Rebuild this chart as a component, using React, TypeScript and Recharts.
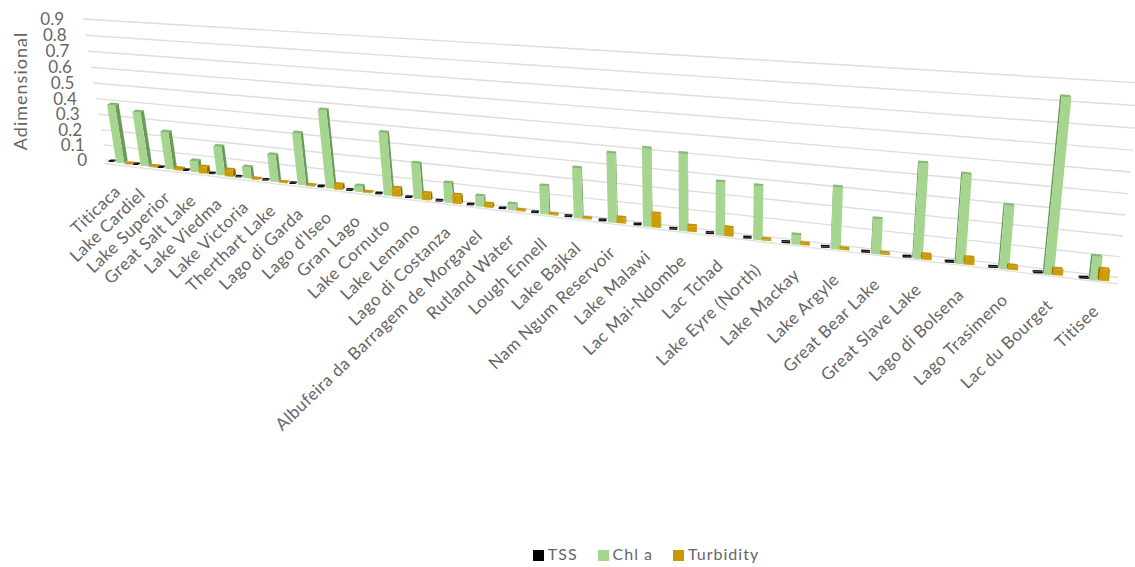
import React from 'react';
import { BarChart, Bar, XAxis, YAxis, CartesianGrid, Legend } from 'recharts';

const lakes = [
  'Titicaca', 'Lake Cardiel', 'Lake Superior', 'Great Salt Lake', 'Lake Viedma', 'Lake Victoria',
  'Therthart Lake', 'Lago di Garda', "Lago d'Iseo", 'Gran Lago', 'Lake Cornuto', 'Lake Lemano',
  'Lago di Costanza', 'Albufeira da Barragem de Morgavel', 'Rutland Water', 'Lough Ennell', 'Lake Bajkal',
  'Nam Ngum Reservoir', 'Lake Malawi', 'Lac Mai-Ndombe', 'Lac Tchad', 'Lake Eyre (North)', 'Lake Mackay',
  'Lake Argyle', 'Great Bear Lake', 'Great Slave Lake', 'Lago di Bolsena', 'Lago Trasimeno', 'Lac du Bourget',
  'Titisee',
];
const tss = [
  0.007, 0.007, 0.007, 0.008, 0.007, 0.007, 0.007, 0.007, 0.008, 0.007, 0.007, 0.007, 0.008, 0.007, 0.007,
  0.007, 0.008, 0.008, 0.008, 0.008, 0.008, 0.008, 0.008, 0.008, 0.008, 0.008, 0.008, 0.008, 0.008, 0.008,
];
const chlA = [
  0.375, 0.345, 0.235, 0.07, 0.18, 0.07, 0.165, 0.315, 0.47, 0.035, 0.37, 0.21, 0.115, 0.06, 0.035,
  0.16, 0.28, 0.38, 0.425, 0.415, 0.285, 0.285, 0.05, 0.32, 0.18, 0.48, 0.445, 0.315, 0.84, 0.115,
];
const turbidity = [
  0.003, 0.005, 0.01, 0.04, 0.04, 0.004, 0.003, 0.005, 0.03, 0.004, 0.05, 0.04, 0.05, 0.02, 0.005,
  0.005, 0.004, 0.03, 0.075, 0.03, 0.045, 0.006, 0.008, 0.006, 0.008, 0.025, 0.035, 0.02, 0.03, 0.055,
];
const valueTicks = [0, 0.1, 0.2, 0.3, 0.4, 0.5, 0.6, 0.7, 0.8, 0.9];

const chartData = lakes.map((name, i) => ({ name, tss: tss[i], chlA: chlA[i], turbidity: turbidity[i] }));

const FONT = 'Lato, sans-serif';
const TEXT = '#666666';

// Flat plot rectangle that Recharts lays out; everything is then projected onto the tilted wall
const PLOT = { x: 100, y: 20, w: 1000, h: 260 };
const WALL = { tl: [83, 19], tr: [1141, 83], br: [1118, 277.5], bl: [106, 160] };

const perspective = (() => {
  const [x0, y0] = WALL.tl;
  const [x1, y1] = WALL.tr;
  const [x2, y2] = WALL.br;
  const [x3, y3] = WALL.bl;
  const sx = x0 - x1 + x2 - x3;
  const sy = y0 - y1 + y2 - y3;
  const dx1 = x1 - x2;
  const dx2 = x3 - x2;
  const dy1 = y1 - y2;
  const dy2 = y3 - y2;
  const den = dx1 * dy2 - dx2 * dy1;
  const g = (sx * dy2 - dx2 * sy) / den;
  const h = (dx1 * sy - sx * dy1) / den;
  const a = x1 - x0 + g * x1;
  const b = x3 - x0 + h * x3;
  const d = y1 - y0 + g * y1;
  const e = y3 - y0 + h * y3;
  return (px: number, py: number) => {
    const u = (px - PLOT.x) / PLOT.w;
    const v = (py - PLOT.y) / PLOT.h;
    const q = g * u + h * v + 1;
    return [(a * u + b * v + x0) / q, (d * u + e * v + y0) / q];
  };
})();

const pts = (list: number[][]) => list.map(p => `${p[0].toFixed(1)},${p[1].toFixed(1)}`).join(' ');

interface BoxStyle {
  slot: number; // -1, 0, 1: position of the series inside a category
  shift: number[]; // screen offset from the category centre, left and right end of the axis
  half: number[]; // half width of the front face, left and right end of the axis
  drop: number[]; // how far the front face sits below the wall, left and right end
  deep: number; // depth of the column, as a share of a full column
  slope: number; // tilt of the top and bottom edges
  face: string;
  side: string;
  cap: string;
}

const BAR_SIZE = 10;

// One 3D column: front face, visible side and top
const Box = ({ x, y, width, height, style }: any) => {
  const s: BoxStyle = style;
  const cx = x + width / 2 - s.slot * BAR_SIZE;
  const k = (cx - PLOT.x) / PLOT.w;
  const off = s.shift[0] + (s.shift[1] - s.shift[0]) * k;
  const hw = s.half[0] + (s.half[1] - s.half[0]) * k;
  const drop = s.drop[0] + (s.drop[1] - s.drop[0]) * k;
  const top = perspective(cx, y);
  const base = perspective(cx, y + height);
  const depth = [(3.5 - 5 * k) * s.deep, -2.5 * s.deep];

  const ftl = [top[0] + off - hw, top[1] + drop - s.slope * hw];
  const ftr = [top[0] + off + hw, top[1] + drop + s.slope * hw];
  const fbl = [base[0] + off - hw, base[1] + drop - s.slope * hw];
  const fbr = [base[0] + off + hw, base[1] + drop + s.slope * hw];
  const back = (p: number[]) => [p[0] + depth[0], p[1] + depth[1]];
  const sideFace = depth[0] >= 0
    ? [ftr, back(ftr), back(fbr), fbr]
    : [ftl, back(ftl), back(fbl), fbl];

  return (
    <g>
      <polygon points={pts(sideFace)} fill={s.side} />
      <polygon points={pts([ftl, ftr, fbr, fbl])} fill={s.face} />
      <polygon points={pts([ftl, ftr, back(ftr), back(ftl)])} fill={s.cap} />
    </g>
  );
};

const tssStyle: BoxStyle = { slot: -1, shift: [-7, -11], half: [2.5, 4.8], drop: [0.5, 4], deep: 0.6, slope: 0.03, face: '#111111', side: '#111111', cap: '#111111' };
const chlStyle: BoxStyle = { slot: 0, shift: [2, 0], half: [4, 5], drop: [1.5, 5.5], deep: 1, slope: 0.08, face: '#A5D58F', side: '#6A9A5C', cap: '#85B975' };
const turbStyle: BoxStyle = { slot: 1, shift: [10, 9], half: [4, 5], drop: [3, 6], deep: 1, slope: 0.08, face: '#CD9B04', side: '#8F6C02', cap: '#C4940A' };

const LakeTick = ({ x, y, payload }: any) => {
  const [bx, by] = perspective(x, y);
  const k = (x - PLOT.x) / PLOT.w;
  const tx = bx + 3 + 3 * k;
  const ty = by + 27 + 5 * k;
  return (
    <text
      x={tx}
      y={ty}
      textAnchor="end"
      transform={`rotate(-44 ${tx} ${ty})`}
      fontFamily={FONT}
      fontSize={17}
      letterSpacing={0.5}
      fill={TEXT}
    >
      {payload.value}
    </text>
  );
};

const ValueTick = ({ y, payload }: any) => {
  const [px, py] = perspective(PLOT.x, y);
  return (
    <text x={px - 19} y={py + 6} textAnchor="end" fontFamily={FONT} fontSize={17} fill={TEXT}>
      {payload.value}
    </text>
  );
};

// Wall gridline; the zero line also gets the front edge of the floor
const WallLine = ({ x1, y1, x2, y2 }: any) => {
  const a = perspective(x1, y1);
  const b = perspective(x2, y2);
  const isFloor = Math.abs(y1 - (PLOT.y + PLOT.h)) < 0.5;
  return (
    <g>
      <line x1={a[0]} y1={a[1]} x2={b[0]} y2={b[1]} stroke="#DDDDDD" strokeWidth={1.4} />
      {isFloor && (
        <line x1={a[0] - 2} y1={a[1] + 3.5} x2={b[0]} y2={b[1] + 6.5} stroke="#E2E2E2" strokeWidth={1.4} />
      )}
    </g>
  );
};

export default function App() {
  return (
    <div style={{ position: 'absolute', left: 0, top: 0, width: 1135, height: 567, background: '#fff' }}>
      <BarChart
        width={1135}
        height={567}
        data={chartData}
        margin={{ top: PLOT.y, right: 1135 - PLOT.x - PLOT.w, bottom: 0, left: 0 }}
        barSize={BAR_SIZE}
        barGap={0}
      >
        <CartesianGrid vertical={false} horizontal={(p: any) => <WallLine key={p.key} {...p} />} />
        <XAxis
          dataKey="name"
          interval={0}
          height={567 - PLOT.y - PLOT.h}
          axisLine={false}
          tickLine={false}
          tick={<LakeTick />}
        />
        <YAxis
          width={PLOT.x}
          domain={[0, 0.9]}
          ticks={valueTicks}
          axisLine={false}
          tickLine={false}
          tick={<ValueTick />}
          label={{
            content: () => (
              <text
                x={27}
                y={91}
                textAnchor="middle"
                transform="rotate(-90 27 91)"
                fontFamily={FONT}
                fontSize={18}
                letterSpacing={1}
                fill={TEXT}
              >
                Adimensional
              </text>
            ),
          }}
        />
        <Legend
          verticalAlign="middle"
          align="center"
          layout="horizontal"
          iconType="square"
          iconSize={11}
          itemSorter={null}
          wrapperStyle={{ top: 544, left: 526, width: 260, height: 24, fontFamily: FONT }}
          formatter={(value: string) => (
            <span style={{ color: TEXT, fontSize: 16, letterSpacing: 1, marginRight: 10 }}>{value}</span>
          )}
        />
        <Bar dataKey="tss" name="TSS" fill="#000000" isAnimationActive={false} shape={(p: any) => <Box {...p} style={tssStyle} />} />
        <Bar dataKey="chlA" name="Chl a" fill="#A5D58F" isAnimationActive={false} shape={(p: any) => <Box {...p} style={chlStyle} />} />
        <Bar dataKey="turbidity" name="Turbidity" fill="#C99700" isAnimationActive={false} shape={(p: any) => <Box {...p} style={turbStyle} />} />
      </BarChart>
    </div>
  );
}
